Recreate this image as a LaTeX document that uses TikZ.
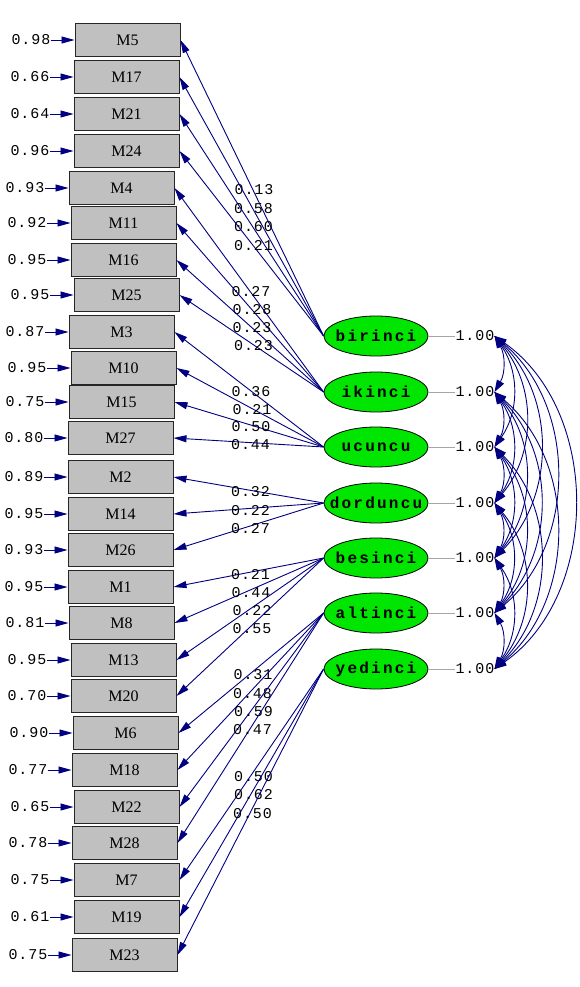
\documentclass[tikz,border=0pt]{standalone}
\usepackage{fontspec}
\setmainfont{Liberation Serif}
\newfontfamily\coeffont[LetterSpace=6]{Liberation Mono}
\newfontfamily\latfont[LetterSpace=14]{Liberation Mono}
\usetikzlibrary{arrows.meta,positioning,calc,shapes.geometric}
\definecolor{navy}{RGB}{0,0,128}
\definecolor{latgreen}{RGB}{0,230,0}
\definecolor{boxgray}{RGB}{192,192,192}
\tikzset{obs/.style={draw=black!85,fill=boxgray,line width=1pt,minimum width=105pt,minimum height=33pt,inner sep=0pt,font=\fontsize{16}{16}\selectfont},
 lat/.style={ellipse,draw=black,fill=latgreen,line width=.8pt,minimum width=104pt,minimum height=40pt,inner xsep=-14pt,inner ysep=0pt,font=\latfont\bfseries\fontsize{16}{16}\selectfont},
 coef/.style={inner sep=0pt,text=black,font=\coeffont\fontsize{15}{15}\selectfont},
 flow/.style={draw=navy,line width=.9pt,-{Triangle[length=13pt,width=7pt]}},
 cov/.style={draw=navy,line width=.9pt,{Triangle[length=12pt,width=8pt]}-{Triangle[length=12pt,width=8pt]}},
 wire/.style={draw=gray!70,line width=.8pt}}

\begin{document}
\begin{tikzpicture}[x=1pt,y=-1pt]
\useasboundingbox (0,0) rectangle (580,987);
% observed variables with error variances
\foreach \n/\x/\y/\e in {M5/127.5/40/0.98,M17/126.5/77/0.66,M21/126.5/114/0.64,M24/126.5/151/0.96,
 M4/121.5/188/0.93,M11/123.5/223/0.92,M16/123.5/260/0.95,M25/126.5/295/0.95,
 M3/121.5/332/0.87,M10/123.5/368/0.95,M15/121.5/402/0.75,M27/120.5/438/0.80,
 M2/120.5/477/0.89,M14/120.5/514/0.95,M26/120.5/550/0.93,
 M1/120.5/587/0.95,M8/121.5/623/0.81,M13/123.5/660/0.95,M20/123.5/696/0.70,
 M6/125.5/733/0.90,M18/124.5/770/0.77,M22/126.5/807/0.65,M28/124.5/843/0.78,
 M7/126.5/880/0.75,M19/126.5/917/0.61,M23/124.5/955/0.75}{
 \node[obs](\n) at(\x,\y){\n};
 \node[coef,left=24pt of \n](e\n){\e};
 \draw[flow](e\n)--(\n);
}
% latent variables
\node[lat](birinci) at(376,336){birinci};
\node[lat](ikinci) at(376,392){ikinci};
\node[lat](ucuncu) at(376,447){ucuncu};
\node[lat](dorduncu) at(376,503){dorduncu};
\node[lat](besinci) at(376,558){besinci};
\node[lat](altinci) at(376,613){altinci};
\node[lat](yedinci) at(376,669){yedinci};
% loadings
\foreach \l/\m/\v in {birinci/M5/0.13,birinci/M17/0.58,birinci/M21/0.60,birinci/M24/0.21,
 ikinci/M4/0.27,ikinci/M11/0.28,ikinci/M16/0.23,ikinci/M25/0.23,
 ucuncu/M3/0.36,ucuncu/M10/0.21,ucuncu/M15/0.50,ucuncu/M27/0.44,
 dorduncu/M2/0.32,dorduncu/M14/0.22,dorduncu/M26/0.27,
 besinci/M1/0.21,besinci/M8/0.44,besinci/M13/0.22,besinci/M20/0.55,
 altinci/M6/0.31,altinci/M18/0.48,altinci/M22/0.59,altinci/M28/0.47,
 yedinci/M7/0.50,yedinci/M19/0.62,yedinci/M23/0.50}{
 \draw[flow](\l.west)--(\m.east)node[coef,midway,xshift=2pt,yshift=-2pt]{\v};
}
% variances
\foreach \l [count=\i] in {birinci,ikinci,ucuncu,dorduncu,besinci,altinci,yedinci}{
 \node[coef,right=27pt of \l](v\i){1.00};
 \draw[wire](\l)--(v\i);
}
% covariances
\foreach \i in {1,...,6}{
 \pgfmathtruncatemacro\k{\i+1}
 \foreach \j in {\k,...,7}{
  \pgfmathsetmacro\bnd{25+5*(\j-\i)}
  \draw[cov](v\i.east) to[bend left=\bnd] (v\j.east);
 }
}
\end{tikzpicture}
\end{document}
